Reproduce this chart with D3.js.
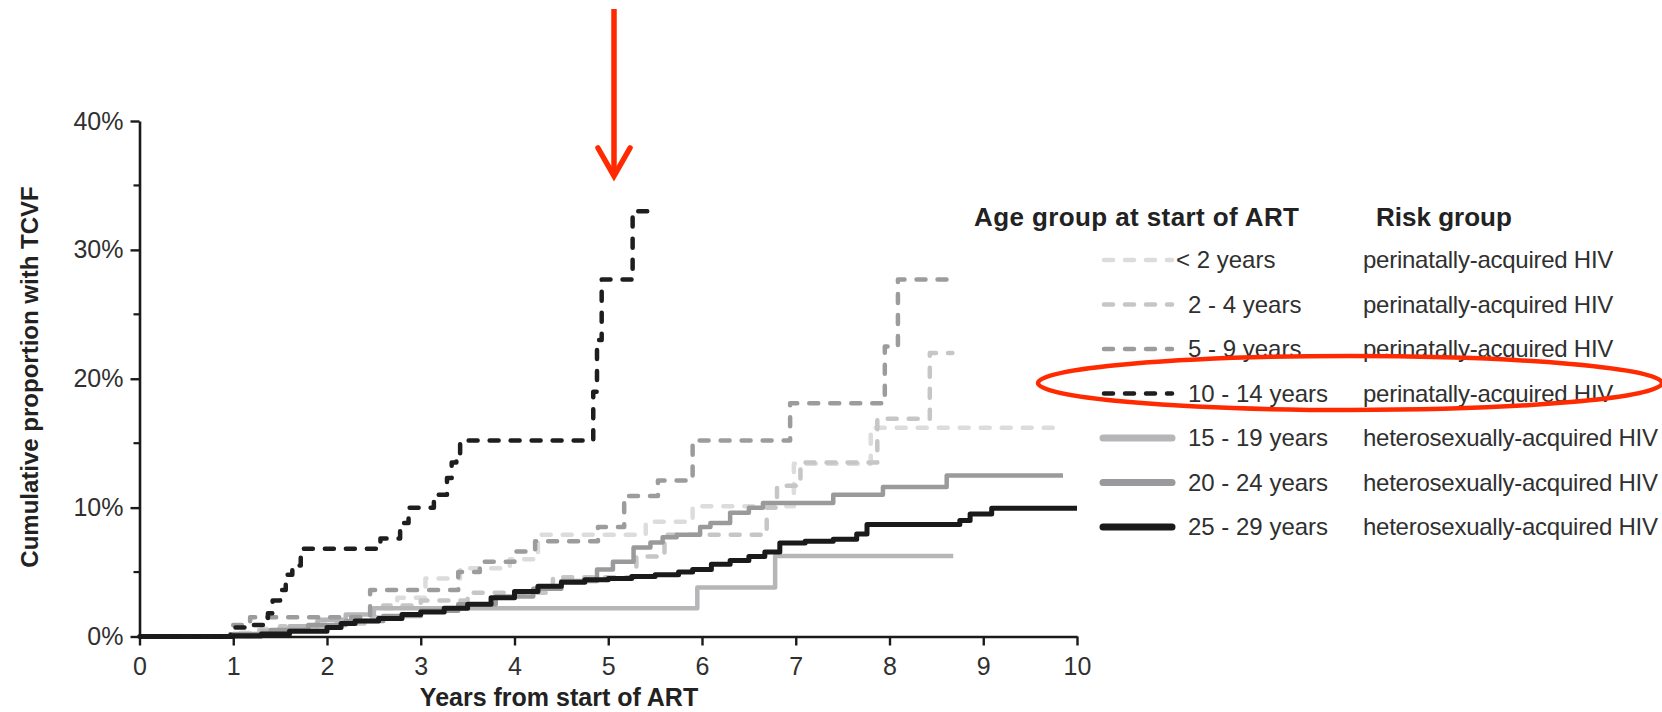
<!DOCTYPE html>
<html>
<head>
<meta charset="utf-8">
<script src="https://cdn.jsdelivr.net/npm/d3@7"></script>
<style>
  html, body { margin: 0; padding: 0; background: #fff; }
  svg { display: block; font-family: "Liberation Sans", Arial, Helvetica, sans-serif; }
</style>
</head>
<body>
<svg id="chart" width="1662" height="712"></svg>
<script>
// Axis ticks
const xTicks = [0, 1, 2, 3, 4, 5, 6, 7, 8, 9, 10];
const yTicks = [0, 10, 20, 30, 40];
const yMinorTicks = [5, 15, 25, 35];

// Legend text
const ageGroups = ["< 2 years", "2 - 4 years", "5 - 9 years", "10 - 14 years",
                   "15 - 19 years", "20 - 24 years", "25 - 29 years"];
const riskGroups = ["perinatally-acquired HIV", "perinatally-acquired HIV",
                    "perinatally-acquired HIV", "perinatally-acquired HIV",
                    "heterosexually-acquired HIV", "heterosexually-acquired HIV",
                    "heterosexually-acquired HIV"];

// Cumulative incidence curves: [years from start of ART, cumulative %]
const curveLt2 = [[0,0],[1.0,0.3],[1.3,0.6],[1.8,1.0],[2.2,1.5],[2.6,2.2],[2.75,3.0],
  [3.05,4.5],[3.42,5.3],[3.95,6.0],[4.25,7.9],[5.4,8.9],[5.9,10.1],[6.98,13.4],
  [7.8,16.2],[9.84,16.2]];
const curve2to4 = [[0,0],[1.2,0.5],[1.5,0.8],[2.0,1.0],[2.4,1.5],[2.6,2.4],[3.0,2.8],
  [3.5,3.4],[4.41,4.6],[5.3,6.2],[5.6,7.9],[6.69,10.0],[6.8,11.7],[7.05,13.5],
  [7.87,16.9],[8.43,22.0],[8.67,22.0]];
const curve5to9 = [[0,0],[1.0,0.9],[1.18,1.5],[2.46,3.6],[3.4,5.0],[3.63,5.8],[4.0,6.6],
  [4.22,7.4],[4.89,8.5],[5.17,10.9],[5.53,12.1],[5.9,15.2],[6.94,18.1],[7.95,22.5],
  [8.09,27.7],[8.68,27.7]];
const curve10to14 = [[0,0],[0.97,0.7],[1.2,0.9],[1.37,1.8],[1.42,2.8],[1.5,3.6],[1.56,4.8],
  [1.63,5.5],[1.72,6.8],[2.57,7.6],[2.78,8.8],[2.87,10.0],[3.14,11.0],[3.28,12.3],
  [3.33,13.5],[3.38,14.2],[3.42,15.2],[4.84,19.0],[4.88,23.0],[4.93,27.7],[5.26,33.0],
  [5.45,33.0]];
const curve15to19 = [[0,0],[1.0,0],[1.3,0.4],[1.6,0.8],[1.9,1.3],[2.2,1.7],[2.5,2.2],
  [5.95,3.8],[6.78,6.25],[8.68,6.25]];
const curve20to24 = [[0,0],[1.0,0.2],[1.4,0.5],[1.8,0.9],[2.2,1.2],[2.6,1.6],[3.0,2.0],
  [3.4,2.5],[3.8,3.1],[4.2,3.7],[4.5,4.3],[4.88,5.2],[5.05,5.8],[5.27,6.9],[5.45,7.3],
  [5.58,7.7],[5.73,7.9],[5.98,8.5],[6.09,8.8],[6.3,9.6],[6.5,10.0],[6.65,10.35],
  [7.4,11.0],[7.93,11.6],[8.61,12.5],[9.85,12.5]];
const curve25to29 = [[0,0],[1.0,0.05],[1.3,0.2],[1.6,0.4],[2.0,0.7],[2.15,1.0],[2.3,1.2],
  [2.55,1.4],[2.8,1.7],[3.0,1.9],[3.25,2.2],[3.5,2.5],[3.75,3.0],[4.0,3.5],[4.25,3.9],
  [4.5,4.2],[4.75,4.4],[5.0,4.5],[5.25,4.65],[5.5,4.8],[5.75,5.0],[5.9,5.2],[6.1,5.6],
  [6.3,5.9],[6.5,6.2],[6.67,6.55],[6.83,7.25],[7.1,7.4],[7.4,7.55],[7.65,7.95],
  [7.76,8.7],[8.75,9.0],[8.86,9.5],[9.09,9.95],[10.0,9.95]];

// Line styling for each age group (same order as the legend)
const seriesStyle = [
  { data: curveLt2,    color: "#dcdcdc", dashed: true,  width: 4.5 },
  { data: curve2to4,   color: "#c6c6c7", dashed: true,  width: 4.5 },
  { data: curve5to9,   color: "#9c9c9e", dashed: true,  width: 4.5 },
  { data: curve10to14, color: "#1e1e1e", dashed: true,  width: 4.5 },
  { data: curve15to19, color: "#b6b6b8", dashed: false, width: 4.5 },
  { data: curve20to24, color: "#9a9a9c", dashed: false, width: 4.5 },
  { data: curve25to29, color: "#1a1a1a", dashed: false, width: 5 }
];
const drawOrder = [0, 1, 4, 2, 5, 6, 3];

const svg = d3.select("#chart");
const x = d3.scaleLinear().domain([0, 10]).range([139.5, 1077]);
const y = d3.scaleLinear().domain([0, 40]).range([636.5, 121]);
const textColor = "#303030";

// Curves
const line = d3.line()
  .x(d => x(d[0]))
  .y(d => y(d[1]))
  .curve(d3.curveStepAfter);

const curves = svg.append("g");
drawOrder.forEach(i => {
  const s = seriesStyle[i];
  curves.append("path")
    .datum(s.data)
    .attr("d", line)
    .attr("fill", "none")
    .attr("stroke", s.color)
    .attr("stroke-width", s.width)
    .attr("stroke-linecap", s.dashed ? "round" : "butt")
    .attr("stroke-linejoin", "round")
    .attr("stroke-dasharray", s.dashed ? "9 12" : null);
});

// X axis
const xAxis = svg.append("g")
  .attr("transform", `translate(0,${y(0)})`)
  .call(d3.axisBottom(x).tickValues(xTicks).tickSize(9).tickPadding(12).tickSizeOuter(0));
xAxis.select(".domain").attr("stroke", "#1a1a1a").attr("stroke-width", 2.6);
xAxis.selectAll(".tick line").attr("stroke", "#1a1a1a").attr("stroke-width", 2.4);
xAxis.selectAll(".tick text")
  .attr("fill", textColor).attr("font-size", 25).attr("font-family", null);

// Y axis
const yAxis = svg.append("g")
  .attr("transform", `translate(${x(0)},0)`)
  .call(d3.axisLeft(y).tickValues(yTicks).tickFormat(d => d + "%")
    .tickSize(9).tickPadding(7).tickSizeOuter(0));
yAxis.select(".domain").attr("stroke", "#1a1a1a").attr("stroke-width", 2.6);
yAxis.selectAll(".tick line").attr("stroke", "#1a1a1a").attr("stroke-width", 2.4);
yAxis.selectAll(".tick text")
  .attr("fill", textColor).attr("font-size", 25).attr("font-family", null);

svg.append("g")
  .attr("transform", `translate(${x(0)},0)`)
  .selectAll("line")
  .data(yMinorTicks)
  .join("line")
  .attr("x1", -6).attr("x2", 0)
  .attr("y1", d => y(d)).attr("y2", d => y(d))
  .attr("stroke", "#1a1a1a").attr("stroke-width", 2.2);

// Axis titles
svg.append("text")
  .attr("x", 559).attr("y", 706)
  .attr("text-anchor", "middle")
  .attr("font-size", 25).attr("font-weight", "bold")
  .attr("fill", "#222")
  .text("Years from start of ART");

svg.append("text")
  .attr("transform", "translate(38,377) rotate(-90)")
  .attr("text-anchor", "middle")
  .attr("font-size", 24).attr("font-weight", "bold")
  .attr("fill", "#222")
  .text("Cumulative proportion with TCVF");

// Legend
const legend = svg.append("g");
legend.append("text")
  .attr("x", 974).attr("y", 226)
  .attr("font-size", 26).attr("font-weight", "bold").attr("fill", "#222")
  .attr("letter-spacing", 0.4)
  .text("Age group at start of ART");
legend.append("text")
  .attr("x", 1376).attr("y", 226)
  .attr("font-size", 26).attr("font-weight", "bold").attr("fill", "#222")
  .text("Risk group");

const rowY = i => 260 + i * 44.5;
const rows = legend.selectAll("g.row")
  .data(seriesStyle)
  .join("g")
  .attr("class", "row")
  .attr("transform", (d, i) => `translate(0,${rowY(i)})`);

rows.append("line")
  .attr("x1", d => d.dashed ? 1104 : 1103)
  .attr("x2", 1172)
  .attr("y1", 0).attr("y2", 0)
  .attr("stroke", d => d.color)
  .attr("stroke-width", d => d.dashed ? 4.5 : 7)
  .attr("stroke-linecap", "round")
  .attr("stroke-dasharray", d => d.dashed ? "9 12" : null);

rows.append("text")
  .attr("x", (d, i) => i === 0 ? 1176 : 1188)
  .attr("y", 8)
  .attr("font-size", 24).attr("fill", textColor)
  .text((d, i) => ageGroups[i]);

rows.append("text")
  .attr("x", 1363)
  .attr("y", 8)
  .attr("font-size", 24).attr("fill", textColor)
  .attr("letter-spacing", -0.25)
  .text((d, i) => riskGroups[i]);

// Red highlight annotations
const accent = "#ff2a00";
const notes = svg.append("g");
notes.append("line")
  .attr("x1", 614).attr("x2", 614)
  .attr("y1", 9).attr("y2", 172)
  .attr("stroke", accent).attr("stroke-width", 5.5);
notes.append("polyline")
  .attr("points", "598,148 614,176 630,148")
  .attr("fill", "none")
  .attr("stroke", accent).attr("stroke-width", 5.5)
  .attr("stroke-linecap", "round").attr("stroke-linejoin", "miter");
notes.append("ellipse")
  .attr("cx", 1350).attr("cy", 383)
  .attr("rx", 312).attr("ry", 27)
  .attr("fill", "none")
  .attr("stroke", accent).attr("stroke-width", 4.5);
</script>
</body>
</html>
